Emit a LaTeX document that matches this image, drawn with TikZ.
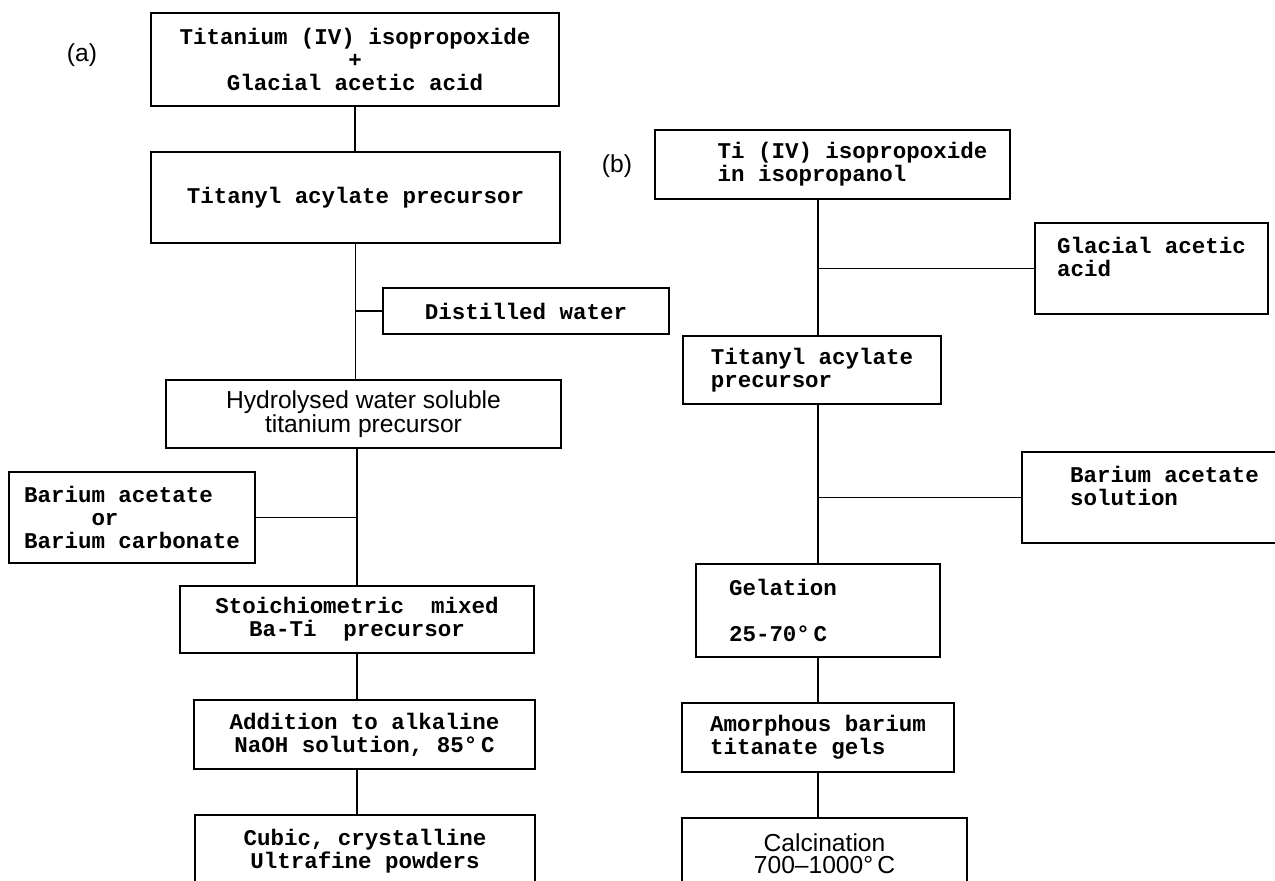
\documentclass[tikz,border=0pt]{standalone}
\usepackage{fontspec}
\setmainfont{Liberation Serif}
\setsansfont{Liberation Sans}
\setmonofont{Liberation Mono}
\usepackage{tikz}
\usetikzlibrary{positioning,calc}
\tikzset{
  box/.style={draw, line width=0.9pt, inner sep=0pt, align=center,
              font=\ttfamily\bfseries\fontsize{12.8}{13}\selectfont},
  lbox/.style={box, align=left},
  sbox/.style={box, font=\sffamily\fontsize{14}{12.6}\selectfont},
  tag/.style={font=\sffamily\fontsize{14}{14}\selectfont},
  link/.style={line width=0.9pt},
}

\begin{document}
\begin{tikzpicture}[x=0.02cm, y=-0.02cm]
  \useasboundingbox (0,0) rectangle (1275,881);
  % route (a)
  \node[tag] (taga) at (82,55) {(a)};
  \node[box, minimum width=8.16cm, minimum height=1.86cm] (titiso) at (355,59.5)
    {Titanium (IV) isopropoxide\\+\\Glacial acetic acid};
  \node[box, minimum width=8.18cm, minimum height=1.82cm] (tiacyl) at (355.5,197.5)
    {Titanyl acylate precursor};
  \node[box, minimum width=5.72cm, minimum height=0.92cm] (water) at (526,311)
    {Distilled water};
  \node[sbox, minimum width=7.9cm, minimum height=1.36cm] (hydro) at (363.5,414)
    {Hydrolysed water soluble\\titanium precursor};
  \node[lbox, minimum width=4.92cm, minimum height=1.82cm] (baac) at (132,517.5)
    {Barium acetate\\\hspace*{3em}or\\Barium carbonate};
  \node[box, minimum width=7.08cm, minimum height=1.34cm] (stoich) at (357,619.5)
    {Stoichiometric~ mixed\\Ba-Ti~ precursor};
  \node[box, minimum width=6.82cm, minimum height=1.38cm] (naoh) at (364.5,734.5)
    {Addition to alkaline\\NaOH solution, 85°\,C};
  \node[box, minimum width=6.8cm, minimum height=1.44cm] (cubic) at (365,851)
    {Cubic, crystalline\\Ultrafine powders};
  \draw[link] (titiso.south) -- (titiso.south |- tiacyl.north);
  \draw[link] (tiacyl.south) -- (tiacyl.south |- hydro.north);
  \draw[link] (water.west) -- (water.west -| tiacyl.south);
  \draw[link] (stoich.north) -- (stoich.north |- hydro.south);
  \draw[link] (baac.east) -- (baac.east -| stoich.north);
  \draw[link] (stoich.south) -- (stoich.south |- naoh.north);
  \draw[link] (stoich.south |- naoh.south) -- (stoich.south |- cubic.north);
  % route (b)
  \node[tag] (tagb) at (617,166) {(b)};
  \node[lbox, minimum width=7.1cm, minimum height=1.38cm] (tiisob) at (832.5,164.5)
    {\hspace*{0.8cm}Ti (IV) isopropoxide\\\hspace*{0.8cm}in isopropanol};
  \node[lbox, minimum width=4.66cm, minimum height=1.82cm] (glac) at (1151.5,268.5)
    {Glacial acetic\\acid\\\mbox{}};
  \node[lbox, minimum width=5.16cm, minimum height=1.36cm] (tiacylb) at (812,370)
    {Titanyl acylate\\precursor};
  \node[lbox, minimum width=5.7cm, minimum height=1.82cm] (baacb) at (1164.5,497.5)
    {Barium acetate\\solution\\\mbox{}};
  \node[lbox, text width=3.56cm, minimum width=4.88cm, minimum height=1.86cm] (gel) at (818,610.5)
    {Gelation\\\mbox{}\\25-70°\,C};
  \node[lbox, minimum width=5.44cm, minimum height=1.38cm] (amor) at (818,737.5)
    {Amorphous barium\\titanate gels};
  \node[sbox, minimum width=5.7cm, minimum height=1.44cm] (calc) at (824.5,854)
    {Calcination\\700--1000°\,C};
  \draw[link] (tiisob.south -| gel.north) -- (tiacylb.north -| gel.north);
  \draw[link] (glac.west) -- (glac.west -| gel.north);
  \draw[link] (tiacylb.south -| gel.north) -- (gel.north);
  \draw[link] (baacb.west) -- (baacb.west -| gel.north);
  \draw[link] (gel.south) -- (amor.north);
  \draw[link] (amor.south) -- (amor.south |- calc.north);
\end{tikzpicture}
\end{document}
